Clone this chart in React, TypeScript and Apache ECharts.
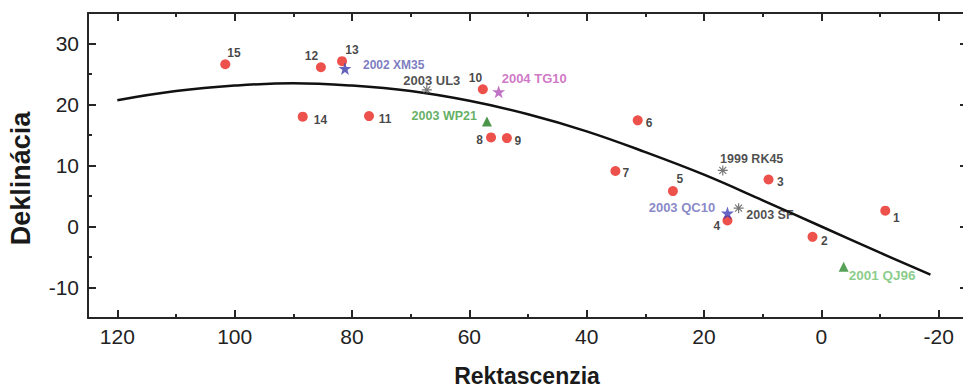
import React, { useEffect, useRef } from 'react';
import * as echarts from 'echarts';

// ---- axis ticks ----
const xMajorTicks = [120, 100, 80, 60, 40, 20, 0, -20];
const xMinorTicks = [110, 90, 70, 50, 30, 10, -10];
const yMajorTicks = [30, 20, 10, 0, -10];
const yMinorTicks = [25, 15, 5, -5];

// ---- curve ----
const curveRA = [120, 110, 100, 90, 80, 70, 60, 50, 40, 30, 20, 10, 0, -10, -18.6];
const curveDec = [20.7, 22.2, 23.1, 23.5, 23.1, 22.2, 20.6, 18.4, 15.6, 12.2, 8.5, 4.3, 0, -4.3, -7.9];

// ---- numbered red points ----
const dotNames = ['1', '2', '3', '4', '5', '6', '7', '8', '9', '10', '11', '12', '13', '14', '15'];
const dotRA = [-10.9, 1.5, 9.0, 16.0, 25.3, 31.3, 35.1, 56.3, 53.6, 57.7, 77.1, 85.3, 81.7, 88.4, 101.6];
const dotDec = [2.6, -1.7, 7.7, 1.0, 5.8, 17.4, 9.1, 14.6, 14.5, 22.5, 18.1, 26.1, 27.1, 18.0, 26.6];

// ---- named objects ----
const objNames = ['2002 XM35', '2004 TG10', '2003 QC10', '2003 UL3', '1999 RK45', '2003 SF', '2003 WP21', '2001 QJ96'];
const objRA = [81.2, 55.0, 16.0, 67.25, 16.8, 14.1, 57.0, -3.8];
const objDec = [25.9, 22.1, 2.2, 22.4, 9.2, 3.0, 17.2, -6.6];
const objKind = ['star', 'star', 'star', 'asterisk', 'asterisk', 'asterisk', 'triangle', 'triangle'];

// ---- styles / label placement (not data) ----
const FONT = '"Liberation Sans", Arial, Helvetica, sans-serif';
const AXIS_COLOR = '#262626';

const dotLabelPlace: Record<string, [string, number, number]> = {
  '1': ['left', 7.7, 7],
  '2': ['left', 8.4, 4],
  '3': ['left', 8.5, 2.5],
  '4': ['right', -7.3, 5.3],
  '5': ['left', 3.5, -11.7],
  '6': ['left', 8, 3],
  '7': ['left', 7, 2],
  '8': ['right', -8, 3],
  '9': ['left', 7.5, 3],
  '10': ['right', -0.7, -11],
  '11': ['left', 9.7, 3],
  '12': ['right', -2.7, -11],
  '13': ['left', 3.3, -11],
  '14': ['left', 11, 3],
  '15': ['left', 2, -11.5],
};

const objLook: Record<string, { sym: string; text: string; align: string; dx: number; dy: number; fs: number }> = {
  '2002 XM35': { sym: '#3b3bab', text: '#5a5ab0', align: 'left', dx: 18, dy: -4, fs: 12 },
  '2004 TG10': { sym: '#b24fb5', text: '#c355b8', align: 'left', dx: 3, dy: -12.7, fs: 13 },
  '2003 QC10': { sym: '#3f3fb8', text: '#6a6ab8', align: 'right', dx: -12.3, dy: -6, fs: 13 },
  '2003 UL3': { sym: '#555555', text: '#1e1e1e', align: 'center', dx: 5, dy: -9.5, fs: 13 },
  '1999 RK45': { sym: '#555555', text: '#1e1e1e', align: 'left', dx: -2.7, dy: -11.5, fs: 12.5 },
  '2003 SF': { sym: '#555555', text: '#1e1e1e', align: 'left', dx: 7.7, dy: 6.7, fs: 12.5 },
  '2003 WP21': { sym: '#1e7b1e', text: '#3a9a3a', align: 'right', dx: -10, dy: -6, fs: 12.5 },
  '2001 QJ96': { sym: '#2e8b2e', text: '#6cc06c', align: 'left', dx: 5, dy: 8.3, fs: 13.5 },
};

const STAR = 'path://M50,0L61.8,35.1L98.1,35.1L68.7,56.7L79.4,91L50,70L20.6,91L31.3,56.7L1.9,35.1L38.2,35.1Z';
const ASTER = 'path://M5,0L5,10M0,5L10,5M1.5,1.5L8.5,8.5M1.5,8.5L8.5,1.5';

function makeXAxis(position: string, ticks: number[], len: number, showLine: boolean, showLabels: boolean) {
  return {
    type: 'value',
    position,
    min: -25,
    max: 125,
    inverse: true,
    axisLine: { show: showLine, onZero: false, lineStyle: { color: AXIS_COLOR, width: 2 } },
    axisTick: { show: true, inside: true, length: len, customValues: ticks, lineStyle: { color: AXIS_COLOR, width: 2 } },
    axisLabel: { show: showLabels, customValues: ticks, margin: 8, fontSize: 21, color: '#222', fontFamily: FONT },
    splitLine: { show: false },
  };
}

function makeYAxis(position: string, ticks: number[], len: number, showLine: boolean, showLabels: boolean) {
  return {
    type: 'value',
    position,
    min: -15,
    max: 35,
    axisLine: { show: showLine, onZero: false, lineStyle: { color: AXIS_COLOR, width: 2 } },
    axisTick: { show: true, inside: true, length: len, customValues: ticks, lineStyle: { color: AXIS_COLOR, width: 2 } },
    axisLabel: { show: showLabels, customValues: ticks, margin: 9, fontSize: 21, color: '#222', fontFamily: FONT },
    splitLine: { show: false },
  };
}

export default function App() {
  const ref = useRef<HTMLDivElement>(null);

  useEffect(() => {
    if (!ref.current) return;
    const chart = echarts.init(ref.current, undefined, { renderer: 'svg' });

    const objSeries = (kind: string, symbol: string, size: number) => {
      const idx = objNames.map((_, i) => i).filter((i) => objKind[i] === kind);
      return {
        type: 'scatter',
        symbol,
        symbolSize: size,
        z: 4,
        data: idx.map((i) => {
          const look = objLook[objNames[i]];
          return {
            name: objNames[i],
            value: [objRA[i], objDec[i]],
            itemStyle:
              kind === 'asterisk'
                ? { color: 'rgba(0,0,0,0)', borderColor: look.sym, borderWidth: 1.2 }
                : { color: look.sym },
            label: {
              align: look.align,
              offset: [look.dx, look.dy],
              color: look.text,
              fontSize: look.fs,
            },
          };
        }),
        label: {
          show: true,
          position: 'inside',
          formatter: '{b}',
          fontWeight: 'bold',
          fontFamily: FONT,
          verticalAlign: 'middle',
          textBorderWidth: 0,
        },
      };
    };

    chart.setOption({
      animation: false,
      backgroundColor: '#ffffff',
      grid: { left: 88, top: 13, width: 880, height: 305, containLabel: false, outerBoundsMode: 'none' },
      xAxis: [
        makeXAxis('bottom', xMajorTicks, 8, true, true),
        makeXAxis('bottom', xMinorTicks, 4, false, false),
        makeXAxis('top', xMajorTicks, 8, true, false),
        makeXAxis('top', xMinorTicks, 4, false, false),
      ],
      yAxis: [
        makeYAxis('left', yMajorTicks, 8, true, true),
        makeYAxis('left', yMinorTicks, 4, false, false),
        makeYAxis('right', yMajorTicks, 8, true, false),
        makeYAxis('right', yMinorTicks, 4, false, false),
      ],
      graphic: [
        {
          type: 'text',
          x: 21,
          y: 178.5,
          rotation: Math.PI / 2,
          style: {
            text: 'Deklinácia',
            font: 'bold 27px ' + FONT,
            fill: '#1a1a1a',
            align: 'center',
            verticalAlign: 'middle',
          },
        },
        {
          type: 'text',
          x: 527,
          y: 376,
          style: {
            text: 'Rektascenzia',
            font: 'bold 23px ' + FONT,
            fill: '#1a1a1a',
            align: 'center',
            verticalAlign: 'middle',
          },
        },
      ],
      series: [
        {
          type: 'line',
          data: curveRA.map((ra, i) => [ra, curveDec[i]]),
          smooth: 0.4,
          symbol: 'none',
          lineStyle: { color: '#111111', width: 2.5 },
          z: 2,
        },
        {
          type: 'scatter',
          symbol: 'circle',
          symbolSize: 10,
          z: 3,
          itemStyle: { color: '#e8261e' },
          data: dotNames.map((n, i) => {
            const p = dotLabelPlace[n];
            return {
              name: n,
              value: [dotRA[i], dotDec[i]],
              label: { align: p[0], offset: [p[1], p[2]] },
            };
          }),
          label: {
            show: true,
            position: 'inside',
            formatter: '{b}',
            fontSize: 12,
            fontWeight: 'bold',
            color: '#151515',
            fontFamily: FONT,
            verticalAlign: 'middle',
            textBorderWidth: 0,
          },
        },
        objSeries('asterisk', ASTER, 10),
        objSeries('star', STAR, 13),
        objSeries('triangle', 'triangle', 10),
      ],
    });

    return () => chart.dispose();
  }, []);

  return (
    <div
      style={{
        position: 'fixed',
        left: 0,
        top: 0,
        width: 963,
        height: 388,
        overflow: 'hidden',
        background: '#fff',
      }}
    >
      <div ref={ref} style={{ width: 980, height: 388 }} />
    </div>
  );
}
